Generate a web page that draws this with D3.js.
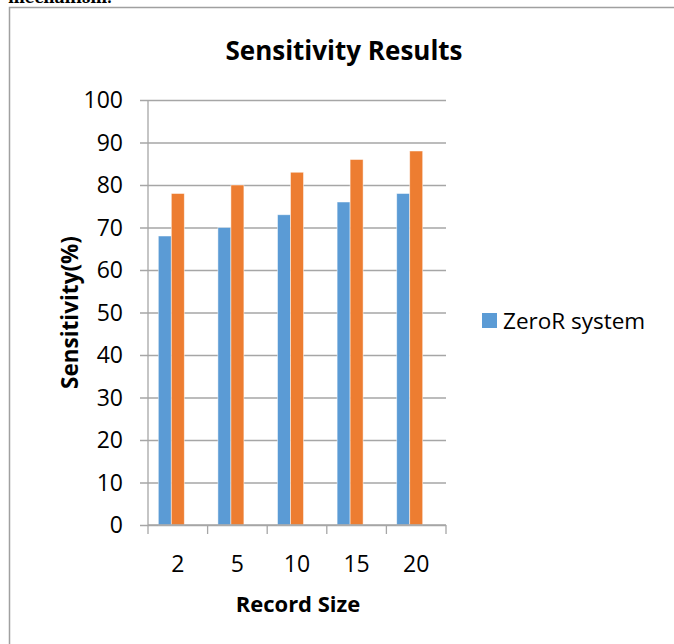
<!DOCTYPE html>
<html>
<head>
<meta charset="utf-8">
<script src="https://cdn.jsdelivr.net/npm/d3@7"></script>
<style>
  body { margin: 0; background: #fff; }
  svg { display: block; font-family: "Open Sans", sans-serif; }
</style>
</head>
<body>
<svg id="chart" width="674" height="644"></svg>
<script>
// data
const recordSizes = ["2", "5", "10", "15", "20"]
const seriesNames = ["ZeroR system", "Proposed system", "Series 3"]
const zeroR = [68, 70, 73, 76, 78]
const proposed = [78, 80, 83, 86, 88]
const series3 = [null, null, null, null, null]   // empty slot kept by the original chart
const yTicks = [0, 10, 20, 30, 40, 50, 60, 70, 80, 90, 100]
const legendNames = ["ZeroR system"]

const colors = { "ZeroR system": "#5b9bd5", "Proposed system": "#ed7d31", "Series 3": "#a5a5a5" }
const allSeries = [zeroR, proposed, series3]

const svg = d3.select("#chart")
const plot = { left: 148, right: 446, top: 100, bottom: 525 }
const gridColor = "#a6a6a6"

// text from the page above, cut off by the frame
svg.append("text")
    .attr("x", 8).attr("y", 3)
    .attr("font-family", "Cambria, 'DejaVu Serif', serif")
    .attr("font-size", 19).attr("font-weight", "bold")
    .text("mechanism.")

// chart frame
svg.append("rect")
    .attr("x", 9.5).attr("y", 7.5)
    .attr("width", 700).attr("height", 700)
    .attr("fill", "#fff")
    .attr("stroke", "#a0a0a0").attr("stroke-width", 1.5)

const x0 = d3.scaleBand().domain(recordSizes).range([plot.left, plot.right])
const x1 = d3.scaleBand().domain(seriesNames)
    .range([x0.bandwidth() * 0.173, x0.bandwidth() * 0.827])
const y = d3.scaleLinear().domain([0, 100]).range([plot.bottom, plot.top])

// gridlines + y ticks
svg.append("g")
    .attr("transform", "translate(" + plot.left + ",0)")
    .call(d3.axisLeft(y).tickValues(yTicks).tickSize(-(plot.right - plot.left)).tickPadding(0).tickFormat(""))
    .call(g => g.select(".domain").remove())
    .call(g => g.selectAll("line").attr("stroke", gridColor).attr("stroke-width", 1.3).attr("x1", -8))

// y tick labels
svg.append("g").selectAll("text")
    .data(yTicks)
    .enter().append("text")
    .attr("x", 123)
    .attr("y", d => y(d))
    .attr("dy", "0.36em")
    .attr("text-anchor", "end")
    .attr("font-size", 23)
    .attr("fill", "#000")
    .text(d => d)

// bars
const rows = recordSizes.map((c, i) => ({ c: c, vals: seriesNames.map((s, j) => ({ s: s, v: allSeries[j][i] })) }))
svg.append("g").selectAll("g")
    .data(rows)
    .enter().append("g")
    .attr("transform", d => "translate(" + x0(d.c) + ",0)")
    .selectAll("rect")
    .data(d => d.vals.filter(e => e.v != null))
    .enter().append("rect")
    .attr("x", d => x1(d.s))
    .attr("y", d => y(d.v))
    .attr("width", x1.bandwidth())
    .attr("height", d => y(0) - y(d.v))
    .attr("fill", d => colors[d.s])
    .attr("stroke", "#fff").attr("stroke-opacity", 0.6).attr("stroke-width", 0.8)

// y axis line
svg.append("line")
    .attr("x1", plot.left).attr("x2", plot.left)
    .attr("y1", plot.top).attr("y2", plot.bottom)
    .attr("stroke", gridColor).attr("stroke-width", 1.3)

// x axis with boundary ticks
const xEdges = recordSizes.map(c => x0(c)).concat([plot.right])
const xAxis = svg.append("g")
xAxis.append("line")
    .attr("x1", plot.left).attr("x2", plot.right)
    .attr("y1", plot.bottom).attr("y2", plot.bottom)
    .attr("stroke", gridColor).attr("stroke-width", 1.3)
xAxis.selectAll(".tk")
    .data(xEdges)
    .enter().append("line")
    .attr("x1", d => d).attr("x2", d => d)
    .attr("y1", plot.bottom).attr("y2", plot.bottom + 9)
    .attr("stroke", gridColor).attr("stroke-width", 1.3)
xAxis.selectAll("text")
    .data(recordSizes)
    .enter().append("text")
    .attr("x", d => x0(d) + x0.bandwidth() / 2)
    .attr("y", 572)
    .attr("text-anchor", "middle")
    .attr("font-size", 23)
    .text(d => d)

// titles
svg.append("text")
    .attr("x", 344).attr("y", 60)
    .attr("text-anchor", "middle")
    .attr("font-size", 26).attr("font-weight", "bold")
    .text("Sensitivity Results")

svg.append("text")
    .attr("x", 298).attr("y", 612)
    .attr("text-anchor", "middle")
    .attr("font-size", 22).attr("font-weight", "bold")
    .text("Record Size")

svg.append("text")
    .attr("transform", "translate(78," + ((plot.top + plot.bottom) / 2) + ") rotate(-90)")
    .attr("text-anchor", "middle")
    .attr("font-size", 22.5).attr("font-weight", "bold")
    .text("Sensitivity(%)")

// legend
const legend = svg.append("g").attr("transform", "translate(482,313)")
legend.selectAll("rect")
    .data(legendNames)
    .enter().append("rect")
    .attr("x", 0).attr("y", (d, i) => i * 30)
    .attr("width", 15).attr("height", 15)
    .attr("fill", d => colors[d])
legend.selectAll("text")
    .data(legendNames)
    .enter().append("text")
    .attr("x", 21).attr("y", (d, i) => i * 30 + 15.5)
    .attr("font-size", 22.5)
    .text(d => d)
</script>
</body>
</html>
